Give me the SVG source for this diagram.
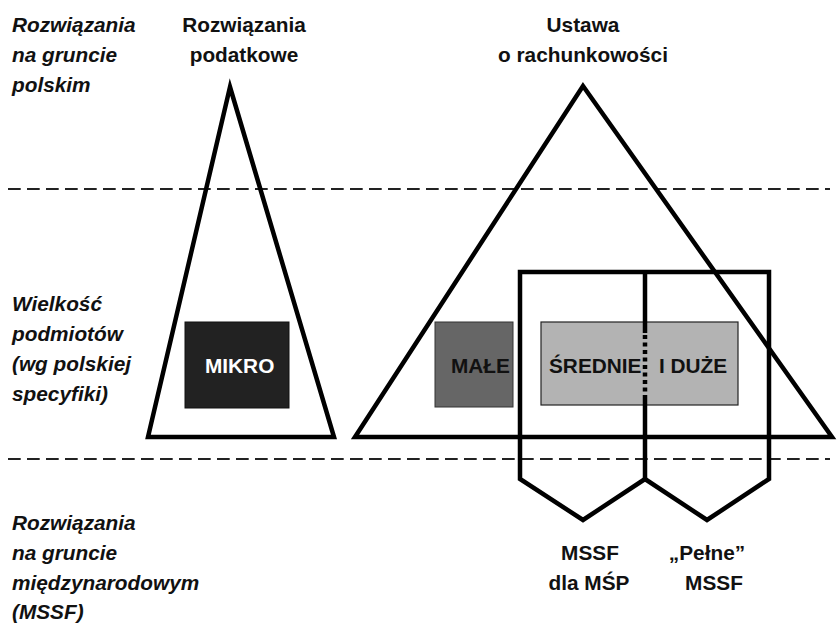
<svg xmlns="http://www.w3.org/2000/svg" width="838" height="624" viewBox="0 0 838 624">
<style>
text{font-family:"Liberation Sans",Arial,sans-serif;font-weight:bold;font-size:20.8px;fill:#111}
.it{font-style:italic}
.c{text-anchor:middle}
.shape{fill:none;stroke:#000;stroke-width:4.5;stroke-linejoin:miter}
.dash{stroke:#222;stroke-width:2;stroke-dasharray:12.7 6.3;fill:none}
</style>
<rect width="838" height="624" fill="#fff"/>
<g id="separators">
<line class="dash" x1="8" y1="189" x2="830" y2="189"/>
<line class="dash" x1="8" y1="459" x2="830" y2="459"/>
</g>
<g id="row-labels">
<text class="it" x="12" y="32">Rozwiązania</text>
<text class="it" x="12" y="62">na gruncie</text>
<text class="it" x="12" y="92">polskim</text>
<text class="it" x="12" y="311">Wielkość</text>
<text class="it" x="12" y="341">podmiotów</text>
<text class="it" x="12" y="371">(wg polskiej</text>
<text class="it" x="12" y="401">specyfiki)</text>
<text class="it" x="12" y="530">Rozwiązania</text>
<text class="it" x="12" y="560">na gruncie</text>
<text class="it" x="12" y="590">międzynarodowym</text>
<text class="it" x="12" y="619">(MSSF)</text>
</g>
<g id="tax-triangle">
<polygon class="shape" points="230,87 334,437 148,437"/>
<text class="c" x="244" y="32">Rozwiązania</text>
<text class="c" x="244" y="62">podatkowe</text>
</g>
<g id="accounting-triangle">
<polygon class="shape" points="583,86 832,437 355,437"/>
<text class="c" x="583" y="32">Ustawa</text>
<text class="c" x="583" y="62">o rachunkowości</text>
</g>
<g id="mikro">
<rect x="185" y="322" width="104" height="86" fill="#222" stroke="#111" stroke-width="1"/>
<text x="205" y="373" style="fill:#fff">MIKRO</text>
</g>
<g id="male">
<rect x="435" y="322" width="78" height="85" fill="#666" stroke="#333" stroke-width="1"/>
<text x="451" y="373">MAŁE</text>
</g>
<g id="srednie-duze">
<rect x="541" y="322" width="197" height="83" fill="#b3b3b3" stroke="#222" stroke-width="1.2"/>
<text x="549" y="373">ŚREDNIE</text>
<text x="659" y="373">I DUŻE</text>
</g>
<g id="connectors">
<polyline class="shape" points="645,333 645,272 520,272 520,479 583,520 645,479 707,520 769,479 769,272 645,272"/>
<line class="shape" x1="645" y1="395" x2="645" y2="479"/>
<line x1="645" y1="335" x2="645" y2="395" stroke="#000" stroke-width="4.5" stroke-dasharray="4 3.5"/>
</g>
<g id="mssf-labels">
<text class="c" x="590" y="560">MSSF</text>
<text class="c" x="589" y="590">dla MŚP</text>
<text class="c" x="707" y="560">„Pełne”</text>
<text class="c" x="714" y="590">MSSF</text>
</g>
</svg>
